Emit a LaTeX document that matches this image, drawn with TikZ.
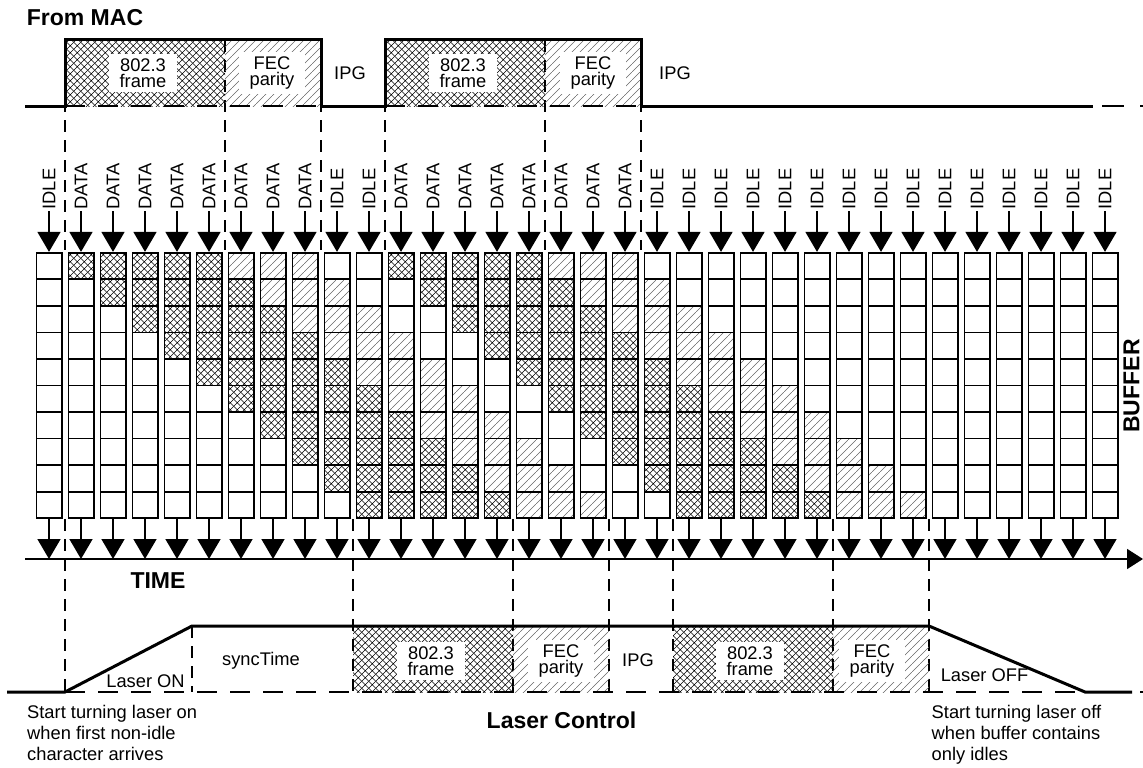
\documentclass[tikz,border=0pt]{standalone}
\usepackage{fontspec}
\setmainfont{Liberation Sans}
\usetikzlibrary{positioning,arrows.meta,patterns.meta}

\tikzdeclarepattern{
  name=frame cross,
  type=uncolored,
  bounding box={(0,0) and (6.7pt,6.7pt)},
  tile size={(6.7pt,6.7pt)},
  code={\draw[line width=.55pt] (-1pt,-1pt) -- (7.7pt,7.7pt) (-1pt,7.7pt) -- (7.7pt,-1pt);}
}
\tikzdeclarepattern{
  name=fec hatch,
  type=uncolored,
  bounding box={(0,0) and (8pt,8pt)},
  tile size={(8pt,8pt)},
  code={\draw[line width=.7pt] (-1pt,-1pt) -- (9pt,9pt);}
}
% 0 = idle, 1 = frame, 2 = FEC parity
\newcommand{\bufferfeed}{{0,1,1,1,1,1,2,2,2,0,0,1,1,1,1,1,2,2,2,0,0,0,0,0,0,0,0,0,0,0,0,0,0,0}}

\begin{document}
\begin{tikzpicture}[x=1pt, y=-1pt,
  font=\fontsize{18.3}{16.5}\selectfont,
  frm/.style={pattern=frame cross},
  fec/.style={pattern=fec hatch, pattern color=black!60},
  cell/.style={draw, line width=1.7pt, minimum width=25.3pt, minimum height=26.56pt, inner sep=0pt},
  cell0/.style={fill=white},
  cell1/.style={frm},
  cell2/.style={fec},
  region/.style={minimum height=66pt, inner sep=0pt, outer sep=0pt},
  tag/.style={fill=white, align=center, inner xsep=11pt, inner ysep=4pt},
  feedlbl/.style={rotate=90, anchor=west, inner xsep=1.5pt},
  feed/.style={line width=1.6pt, -{Triangle[length=20pt, width=23pt]}},
  axis/.style={line width=1.7pt, -{Triangle[length=16pt, width=20pt]}},
  wave/.style={line width=3pt},
  base/.style={line width=2.6pt, dash pattern=on 20pt off 13pt},
  guide/.style={line width=1.7pt, dash pattern=on 12pt off 8pt},
  head/.style={font=\fontsize{23}{27}\selectfont\bfseries},
  note/.style={anchor=north west, align=left, inner sep=0pt, font=\fontsize{18.3}{21}\selectfont}
]
\useasboundingbox (0,0) rectangle (1143,768);

% guides
\foreach \gx in {65,225,321,385,545,641}
  \draw[guide] (\gx,40) -- (\gx,250);
\foreach \gx in {65,353,513,609,673,833,929}
  \draw[guide] (\gx,519) -- (\gx,692);
\draw[guide] (192,626) -- (192,692);

% from MAC
\node[head] (mac) at (85,18) {From MAC};
\node[region, frm, minimum width=160pt] (mf1) at (145,73) {};
\node[region, fec, minimum width=96pt] (mp1) at (273,73) {};
\node[region, frm, minimum width=160pt] (mf2) at (465,73) {};
\node[region, fec, minimum width=96pt] (mp2) at (593,73) {};
\node[tag] (mf1t) at (143,73) {802.3\\frame};
\node[tag] (mp1t) at (272,73) {FEC\\parity};
\node[tag] (mf2t) at (463,73) {802.3\\frame};
\node[tag] (mp2t) at (593,73) {FEC\\parity};
\node (ipg1) at (350,73) {IPG};
\node (ipg2) at (675,73) {IPG};
\draw[wave] (25,106) -- (mf1.south west) -- (mf1.north west) -- (mp1.north east) -- (mp1.south east)
  -- (mf2.south west) -- (mf2.north west) -- (mp2.north east) -- (mp2.south east) -- (1093,106);
\draw[base] (mf1.south west) -- (mp1.south east);
\draw[base] (mf2.south west) -- (mp2.south east);
\draw[base, dash pattern=on 22pt off 16pt] (1102,106) -- (1143,106);

% buffer
\foreach \t in {0,...,33}{
  \foreach \r in {0,...,9}{
    \pgfmathtruncatemacro\c{\bufferfeed[max(\t-\r,0)]}
    \node[cell, cell\c] (c\t-\r) at (49+32*\t, 266+26.56*\r) {};
  }
}
\node[head, rotate=90] (buf) at (1131.5,386) {BUFFER};

% input and output
\coordinate (t0) at (25,559);
\coordinate (t1) at (1143,559);
\draw[axis] (t0) -- (t1);
\foreach \t in {0,...,33}{
  \pgfmathtruncatemacro\v{\bufferfeed[\t]}
  \node[feedlbl] (lbl\t) at (49+32*\t, 211) {\ifnum\v=0 IDLE\else DATA\fi};
  \draw[feed] (lbl\t.west) -- (c\t-0.north);
  \coordinate (tm\t) at (49+32*\t, 559);
  \draw[feed] (c\t-9.south) -- (tm\t);
}
\node[head] (time) at (158,581) {TIME};

% laser control
\node[region, frm, minimum width=160pt] (lf1) at (433,659) {};
\node[region, fec, minimum width=96pt] (lp1) at (561,659) {};
\node[region, frm, minimum width=160pt] (lf2) at (753,659) {};
\node[region, fec, minimum width=96pt] (lp2) at (881,659) {};
\node[tag] (lf1t) at (431,661) {802.3\\frame};
\node[tag] (lp1t) at (561,661) {FEC\\parity};
\node[tag] (lf2t) at (750,661) {802.3\\frame};
\node[tag] (lp2t) at (872,661) {FEC\\parity};
\node (ipg3) at (638,660) {IPG};
\draw[wave] (7,692) -- (65,692) -- (192,626) -- (lp2.north east) -- (1085,692) -- (1132,692);
\draw[base] (65,692) -- (1085,692);
\draw[base] (1140,692) -- (1143,692);
\node (lon) at (145.5,681) {Laser ON};
\node (sync) at (261,661) {syncTime};
\node (loff) at (984.5,675.5) {Laser OFF};
\node[head] (lc) at (561.5,720) {Laser Control};
\node[note] (onnote) at (27,705.5) {Start turning laser on\\when first non-idle\\character arrives};
\node[note] (offnote) at (931.5,705.5) {Start turning laser off\\when buffer contains\\only idles};
\end{tikzpicture}
\end{document}
